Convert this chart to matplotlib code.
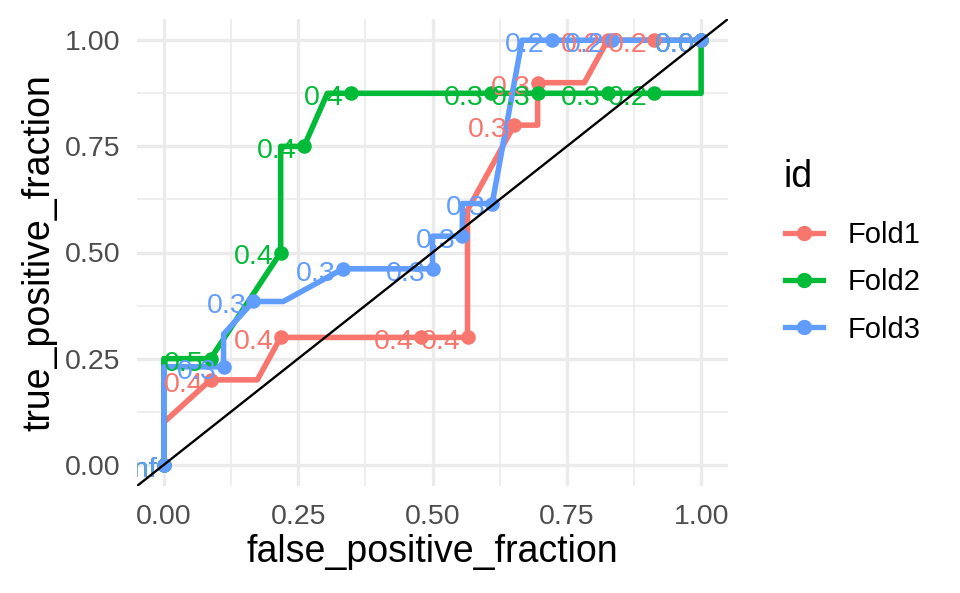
import matplotlib
matplotlib.use("Agg")
import matplotlib.pyplot as plt
from matplotlib.lines import Line2D
from matplotlib.transforms import offset_copy
import numpy as np

plt.rcParams['font.family'] = ['Liberation Sans', 'DejaVu Sans']

ids = ["Fold1", "Fold2", "Fold3"]
colors = ["#F8766D", "#00BA38", "#619CFF"]

# ROC paths (false positive fraction, true positive fraction)
fold1_fpf = [0, 0, 2/23, 4/23, 5/23, 11/23, 13/23, 13/23, 15/23, 16/23, 16/23, 18/23, 19/23, 21/23, 1]
fold1_tpf = [0, 0.1, 0.2, 0.2, 0.3, 0.3, 0.3, 0.6, 0.8, 0.8, 0.9, 0.9, 1.0, 1.0, 1.0]
fold2_fpf = [0, 0, 2/23, 5/23, 5/23, 6/23, 7/23, 8/23, 14/23, 16/23, 19/23, 21/23, 1, 1]
fold2_tpf = [0, 0.25, 0.25, 0.5, 0.75, 0.75, 0.875, 0.875, 0.875, 0.875, 0.875, 0.875, 0.875, 1.0]
fold3_fpf = [0, 0, 2/18, 2/18, 3/18, 4/18, 6/18, 9/18, 9/18, 10/18, 10/18, 11/18, 12/18, 13/18, 15/18, 1]
fold3_tpf = [0, 3/13, 3/13, 4/13, 5/13, 5/13, 6/13, 6/13, 7/13, 7/13, 8/13, 8/13, 1, 1, 1, 1]

# labelled cutoff points
fold1_cut_x = [0, 2/23, 5/23, 11/23, 13/23, 15/23, 16/23, 19/23, 21/23, 1]
fold1_cut_y = [0, 0.2, 0.3, 0.3, 0.3, 0.8, 0.9, 1.0, 1.0, 1.0]
fold1_cut_lab = ["Inf", "0.4", "0.4", "0.4", "0.4", "0.3", "0.3", "0.2", "0.2", "0.0"]
fold2_cut_x = [0, 2/23, 5/23, 6/23, 8/23, 14/23, 16/23, 19/23, 21/23, 1]
fold2_cut_y = [0, 0.25, 0.5, 0.75, 0.875, 0.875, 0.875, 0.875, 0.875, 1.0]
fold2_cut_lab = ["Inf", "0.5", "0.4", "0.4", "0.4", "0.3", "0.3", "0.3", "0.2", "0.0"]
fold3_cut_x = [0, 2/18, 3/18, 6/18, 9/18, 10/18, 11/18, 13/18, 15/18, 1]
fold3_cut_y = [0, 3/13, 5/13, 6/13, 6/13, 7/13, 8/13, 1, 1, 1]
fold3_cut_lab = ["Inf", "0.3", "0.3", "0.3", "0.3", "0.3", "0.3", "0.2", "0.2", "0.0"]

paths = [(fold1_fpf, fold1_tpf), (fold2_fpf, fold2_tpf), (fold3_fpf, fold3_tpf)]
cuts = [(fold1_cut_x, fold1_cut_y, fold1_cut_lab),
        (fold2_cut_x, fold2_cut_y, fold2_cut_lab),
        (fold3_cut_x, fold3_cut_y, fold3_cut_lab)]

ticks = [0.0, 0.25, 0.5, 0.75, 1.0]
tick_labels = ["0.00", "0.25", "0.50", "0.75", "1.00"]
minor = [0.125, 0.375, 0.625, 0.875]

W, H = 960, 593
fig = plt.figure(figsize=(W/100, H/100), dpi=100)
ax = fig.add_axes([137/W, 1-486/H, (728-137)/W, (486-19)/H])
ax.set_xlim(-0.05, 1.05)
ax.set_ylim(-0.05, 1.05)
for s in ax.spines.values():
    s.set_visible(False)
ax.set_xticks(ticks)
ax.set_xticklabels(tick_labels)
ax.set_yticks(ticks)
ax.set_yticklabels(tick_labels)
ax.set_xticks(minor, minor=True)
ax.set_yticks(minor, minor=True)
ax.tick_params(which='both', length=0)
ax.tick_params(axis='x', pad=13, labelsize=20.5, labelcolor='#4D4D4D')
ax.tick_params(axis='y', pad=12, labelsize=20.5, labelcolor='#4D4D4D')
ax.grid(which='major', color='#EBEBEB', linewidth=2.4)
ax.grid(which='minor', color='#EBEBEB', linewidth=1.2)
ax.set_axisbelow(True)
ax.set_xlabel("false_positive_fraction", fontsize=27, labelpad=3)
ax.set_ylabel("true_positive_fraction", fontsize=27, labelpad=5)

for (x, y), c in zip(paths, colors):
    ax.plot(x, y, color=c, linewidth=4.0, zorder=2, solid_joinstyle='round', solid_capstyle='butt')
for (x, y, lab), c in zip(cuts, colors):
    ax.scatter(x, y, s=110, color=c, zorder=3, linewidths=0)
lab_tr = offset_copy(ax.transData, fig=fig, x=-5, y=-8.6, units='points')
for (x, y, lab), c in zip(cuts, colors):
    for xi, yi, li in zip(x, y, lab):
        ax.text(xi, yi, li, transform=lab_tr, ha='right', va='baseline',
                fontsize=20.5, color=c, zorder=4, clip_on=True)

ax.plot([-0.05, 1.05], [-0.05, 1.05], color='black', linewidth=1.7, zorder=5)

handles = [Line2D([], [], color=c, linewidth=3.8, marker='o', markersize=10) for c in colors]
leg = fig.legend(handles, ids, loc='upper left',
                 bbox_to_anchor=(785/W, 1-221/H), frameon=False,
                 fontsize=21, handlelength=1.3,
                 handletextpad=0.85, labelspacing=0.66, borderpad=0, borderaxespad=0)
fig.text(783/W, 1-177/H, "id", fontsize=27, ha='left', va='center')

fig.savefig("out.png", dpi=100)
